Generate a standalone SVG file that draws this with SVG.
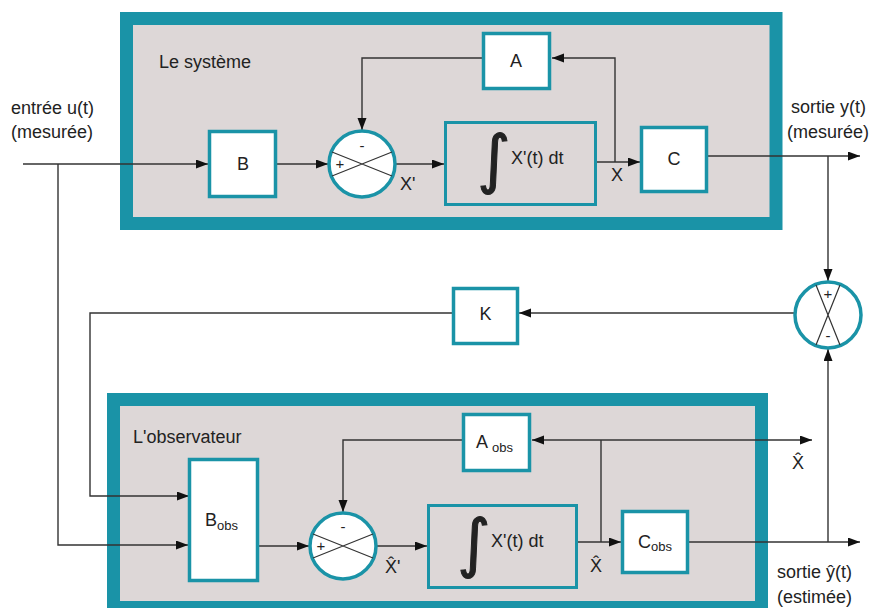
<svg xmlns="http://www.w3.org/2000/svg" width="871" height="608" viewBox="0 0 871 608">
<defs>
<marker id="ah" markerUnits="userSpaceOnUse" markerWidth="13" markerHeight="10" refX="12" refY="4.5" orient="auto">
<path d="M0,0 L12,4.5 L0,9 z" fill="#111"/>
</marker>
<style>
.frame{fill:#ddd7d7;stroke:#1a93a7;stroke-width:13}
.box{fill:#fff;stroke:#1a93a7;stroke-width:3.5}
.ibox{fill:none;stroke:#1a93a7;stroke-width:3}
.sum{fill:#fff;stroke:#1a93a7;stroke-width:3.5}
.x{stroke:#333;stroke-width:1.2;fill:none}
.wire{fill:none;stroke:#333;stroke-width:1.4;marker-end:url(#ah)}
.wn{fill:none;stroke:#333;stroke-width:1.4}
text{font-family:"Liberation Sans",Arial,sans-serif;font-size:18px;fill:#222}
.sub{font-size:13px}
.sign{font-size:15px}
.c{text-anchor:middle}
.int{font-family:"DejaVu Sans","Liberation Sans",sans-serif;font-size:64px;stroke:#222;stroke-width:1}
</style>
</defs>
<rect width="871" height="608" fill="#fff"/>
<g id="systeme">
<rect class="frame" x="126.5" y="18.5" width="649.5" height="205"/>
<text x="159" y="68">Le système</text>
</g>
<g id="observateur">
<rect class="frame" x="113.5" y="399.5" width="648" height="208"/>
<text x="133" y="443">L'observateur</text>
</g>
<g id="labels">
<text x="11" y="114">entrée u(t)</text>
<text x="11" y="138">(mesurée)</text>
<text x="791" y="113">sortie y(t)</text>
<text x="787" y="138">(mesurée)</text>
<text x="777" y="578">sortie ŷ(t)</text>
<text x="777" y="603">(estimée)</text>
<text x="400" y="190">X'</text>
<text x="611" y="181">X</text>
<text x="385" y="573">X&#x302;'</text>
<text x="590" y="572">X&#x302;</text>
<text x="792" y="469">X&#x302;</text>
</g>
<g id="connectors">
<path class="wire" d="M23,164 H208"/>
<path class="wire" d="M58,164 V545 H188"/>
<path class="wire" d="M277,164 H328"/>
<path class="wire" d="M483,58 H362 V130"/>
<path class="wire" d="M396,164 H444"/>
<path class="wire" d="M596,162 H640"/>
<path class="wire" d="M615,162 V58 H552"/>
<path class="wire" d="M708,156 H860"/>
<path class="wire" d="M828,156 V281"/>
<path class="wire" d="M794,313 H519"/>
<path class="wire" d="M452,313 H90 V496 H189"/>
<path class="wire" d="M259,546 H309"/>
<path class="wire" d="M462,440 H343 V512"/>
<path class="wire" d="M377,546 H427"/>
<path class="wire" d="M577,542 H621"/>
<path class="wn" d="M601,542 V440"/>
<path class="wire" d="M601,440 H532"/>
<path class="wire" d="M601,440 H812"/>
<path class="wire" d="M688,542 H860"/>
<path class="wire" d="M828,542 V349"/>
</g>
<g id="B">
<rect class="box" x="209.5" y="131.5" width="66" height="65"/>
<text class="c" x="243" y="170">B</text>
</g>
<g id="sum1">
<circle class="sum" cx="362" cy="164" r="33"/>
<path class="x" d="M332,152 L392,176 M332,176 L392,152"/>
<text class="sign c" x="362" y="151">-</text>
<text class="sign c" x="340" y="169">+</text>
</g>
<g id="A">
<rect class="box" x="483.5" y="33.5" width="66" height="55"/>
<text class="c" x="516" y="67">A</text>
</g>
<g id="integ1">
<rect class="ibox" x="445.5" y="122.5" width="150" height="82"/>
<text class="int c" x="494" y="181">∫</text>
<text x="511" y="164">X'(t) dt</text>
</g>
<g id="C">
<rect class="box" x="641.5" y="127.5" width="65" height="64"/>
<text class="c" x="674" y="165">C</text>
</g>
<g id="sum2">
<circle class="sum" cx="828" cy="315" r="33"/>
<path class="x" d="M816,285 L840,345 M840,285 L816,345"/>
<text class="sign c" x="828" y="299">+</text>
<text class="sign c" x="828" y="341">-</text>
</g>
<g id="K">
<rect class="box" x="453.5" y="288.5" width="64" height="55"/>
<text class="c" x="485.5" y="320">K</text>
</g>
<g id="Bobs">
<rect class="box" x="189.5" y="459.5" width="68" height="121"/>
<text x="205" y="526">B<tspan class="sub" dy="4">obs</tspan></text>
</g>
<g id="sum3">
<circle class="sum" cx="343" cy="546" r="33"/>
<path class="x" d="M313,534 L373,558 M313,558 L373,534"/>
<text class="sign c" x="343" y="532">-</text>
<text class="sign c" x="321" y="551">+</text>
</g>
<g id="Aobs">
<rect class="box" x="463.5" y="414.5" width="66" height="56"/>
<text x="476" y="448">A <tspan class="sub" dy="4">obs</tspan></text>
</g>
<g id="integ2">
<rect class="ibox" x="428.5" y="505.5" width="148" height="82"/>
<text class="int c" x="474" y="565">∫</text>
<text x="491" y="547">X'(t) dt</text>
</g>
<g id="Cobs">
<rect class="box" x="622.5" y="511.5" width="65" height="61"/>
<text x="638" y="548">C<tspan class="sub" dy="3">obs</tspan></text>
</g>
</svg>
